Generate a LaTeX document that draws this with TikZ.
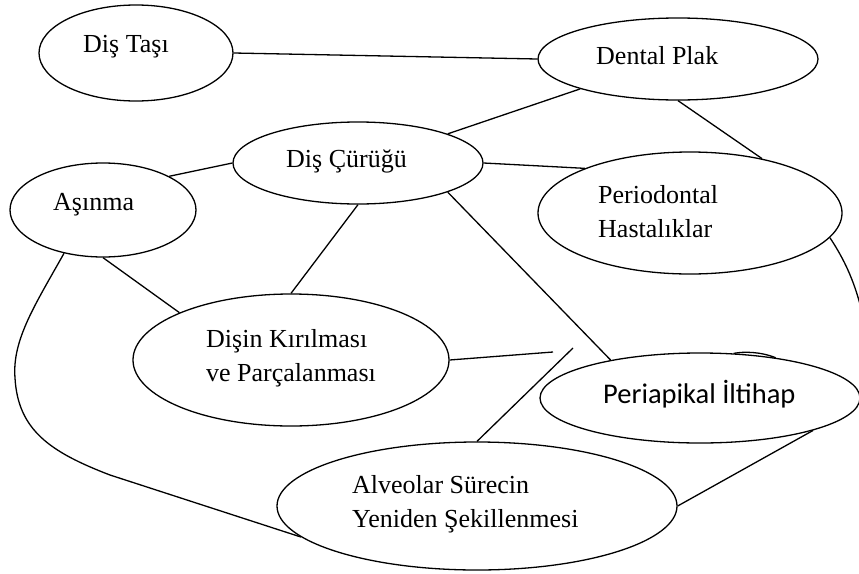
\documentclass[tikz,border=0pt]{standalone}
\usepackage{fontspec}
\setmainfont{Liberation Serif}
\newfontfamily\calib{Carlito}
\usetikzlibrary{shapes.geometric}
\begin{document}
\begin{tikzpicture}[x=1pt,y=-1pt,
  bub/.style={draw, ellipse, line width=1.3pt, inner sep=0pt},
  lbl/.style={inner sep=0pt, font=\fontsize{26}{34}\selectfont, align=left},
  con/.style={line width=1.3pt}]
\clip (0,0) rectangle (859,573);
% ellipses
\node[bub, minimum width=194pt, minimum height=96pt]  (tasi)    at (136,53)  {};
\node[bub, minimum width=280pt, minimum height=82pt]  (plak)    at (678,59)  {};
\node[bub, minimum width=250pt, minimum height=82pt]  (curugu)  at (358,163) {};
\node[bub, minimum width=186pt, minimum height=94pt]  (asinma)  at (103,210) {};
\node[bub, minimum width=304pt, minimum height=122pt] (perio)   at (690,213) {};
\node[bub, minimum width=316pt, minimum height=132pt] (kirilma) at (291,360) {};
\node[bub, minimum width=320pt, minimum height=90pt]  (periap)  at (700,398) {};
\node[bub, minimum width=400pt, minimum height=128pt] (alveo)   at (477,506) {};
% labels
\node[lbl, anchor=base west] (ttasi)   at (83,52)   {Diş Taşı};
\node[lbl, anchor=base west] (tplak)   at (596,64)  {Dental Plak};
\node[lbl, anchor=base west] (tcurugu) at (286,167) {Diş Çürüğü};
\node[lbl, anchor=base west] (tasinma) at (53,210)  {Aşınma};
\node[lbl, anchor=north west] (tperio)   at (598,185) {Periodontal\\Hastalıklar};
\node[lbl, anchor=north west] (tkirilma) at (206,329) {Dişin Kırılması\\ve Parçalanması};
\node[lbl, anchor=north west] (talveo)   at (352,475) {Alveolar Sürecin\\Yeniden Şekillenmesi};
\node[inner sep=0pt, anchor=base west, font=\calib\fontsize{28.5}{34}\selectfont] (tperiap) at (603,403) {Periapikal İltihap};
% connectors
\draw[con] (tasi.east) -- (plak.west);
\draw[con] (plak.197) -- (curugu.18);
\draw[con] (curugu.east) -- (perio.157);
\draw[con] (curugu.west) -- (asinma.27);
\draw[con] (curugu.south) -- (kirilma.north);
\draw[con] (curugu.-18) -- (periap.157);
\draw[con] (asinma.south) -- (kirilma.157);
\draw[con] (plak.south) -- (perio.37);
\draw[con] (periap.-16) -- (alveo.east);
\coordinate (kend) at (553,352);
\draw[con] (kirilma.east) -- (kend);
\coordinate (aend) at (573,348);
\draw[con] (alveo.north) -- (aend);
\draw[con] (asinma.228) .. controls (35,305) and (12,340) .. (15,378)
  .. controls (18,430) and (50,452) .. (110,475) -- (alveo.190);
\coordinate (pend) at (866,330);
\draw[con] (perio.-10) .. controls (848,265) and (858,290) .. (pend);
\draw[con] (periap.53) .. controls (744,351.5) and (760,351.5) .. (periap.28);
\end{tikzpicture}
\end{document}
